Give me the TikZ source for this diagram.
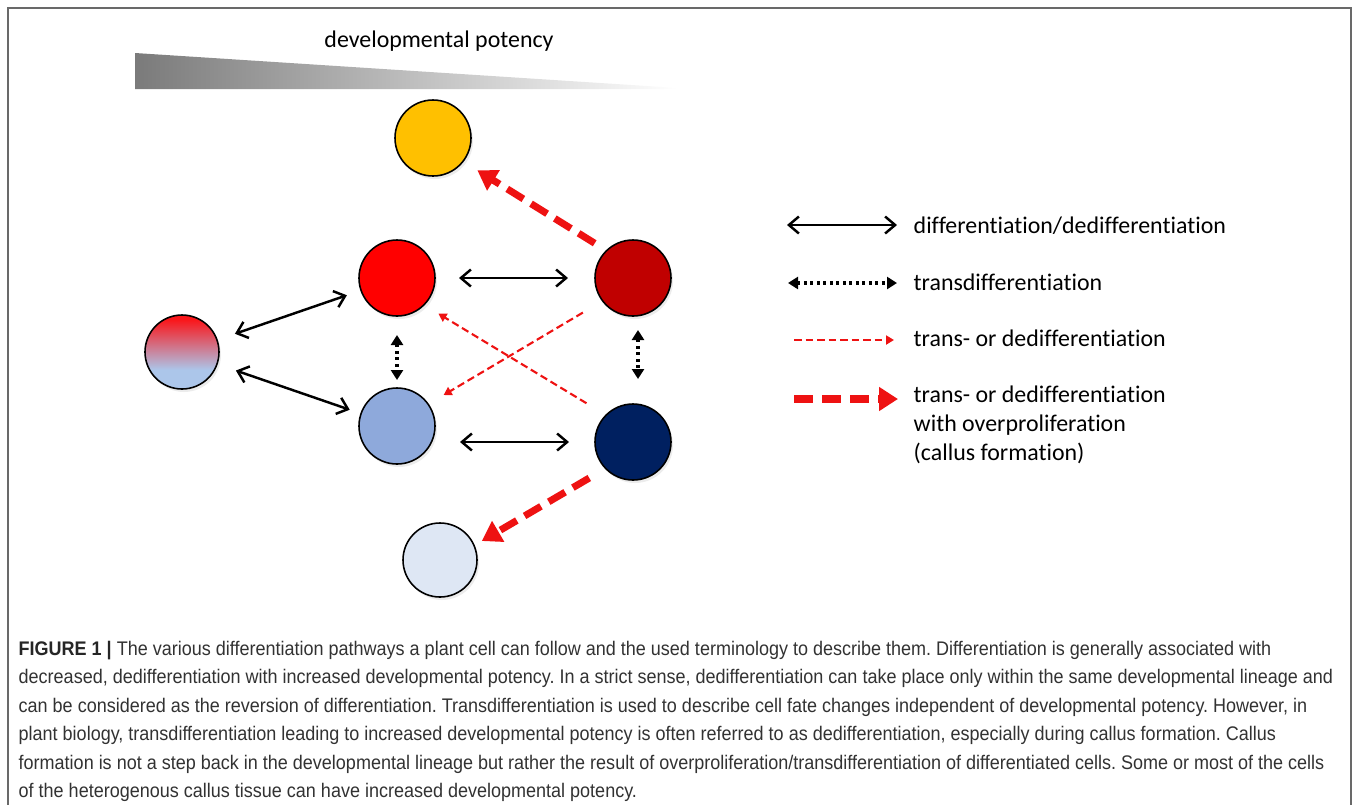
\documentclass[tikz,border=0pt]{standalone}
\usepackage{fontspec}
\setmainfont{Carlito}[Ligatures=NoCommon]
\newfontfamily\capfont[FakeStretch=0.915]{Liberation Sans}
\usetikzlibrary{positioning}
\usetikzlibrary{arrows.meta}
\usetikzlibrary{shadows}
\frenchspacing

\definecolor{cellyellow}{RGB}{255,192,0}
\definecolor{cellred}{RGB}{255,0,0}
\definecolor{celldred}{RGB}{192,0,0}
\definecolor{cellblue}{RGB}{142,169,219}
\definecolor{cellnavy}{RGB}{0,32,96}
\definecolor{cellpale}{RGB}{222,231,244}
\definecolor{stemred}{RGB}{250,22,26}
\definecolor{stemblue}{RGB}{172,198,234}
\definecolor{arrowred}{RGB}{238,18,18}
\definecolor{framegray}{RGB}{105,105,105}
\definecolor{captext}{RGB}{50,50,50}

\pgfdeclareverticalshading{stemshade}{100bp}{color(0bp)=(stemblue); color(38bp)=(stemblue); color(72bp)=(stemred); color(100bp)=(stemred)}

\begin{document}
\begin{tikzpicture}[
                x=0.1mm, y=-0.1mm,
                cell/.style = {
                    draw,
                    circle,
                    line width = 0.45pt,
                    minimum size = #1,
                    inner sep = 0pt,
                    outer sep = 0pt,
                    drop shadow = {opacity=0.15, shadow xshift=0.2mm, shadow yshift=-0.3mm}
                },
                cell/.default = 7.6mm,
                diffarrow/.style = {line width=0.7pt,
                    {Straight Barb[length=1mm,width=1.7mm]}-{Straight Barb[length=1mm,width=1.7mm]}},
                transarrow/.style = {line width=1pt, dash pattern=on 0.3mm off 0.35mm,
                    {Triangle[length=1mm,width=1.2mm]}-{Triangle[length=1mm,width=1.2mm]}},
                dedifarrow/.style = {arrowred, line width=0.6pt, dash pattern=on 0.75mm off 0.4mm,
                    -{Triangle[length=0.8mm,width=0.9mm]}},
                callusarrow/.style = {arrowred, line width=2pt, dash pattern=on 1.9mm off 0.9mm,
                    -{Triangle[length=1.9mm,width=2.3mm]}},
                legendtext/.style = {font=\fontsize{6.8}{8.25}\selectfont, inner sep=0pt, align=left},
                captionline/.style = {anchor=base west, inner sep=0pt, text=captext,
                    font=\capfont\fontsize{5.6}{8.1}\selectfont}
            ]
            \useasboundingbox (0,0) rectangle (1358,804);
            \draw[framegray, line width=0.5pt] (8,820) -- (8,8) -- (1351,8) -- (1351,820);
            % 
            \shade[left color=black!52, right color=white] (135,53) -- (678,88) -- (678,89) -- (135,89) -- cycle;
            \node[legendtext, anchor=base] (potency) at (439,47) {developmental potency};
            % 
            \node[cell, fill=cellyellow] (yellow) at (433,138) {};
            \node[cell, fill=cellred] (red) at (397,278) {};
            \node[cell, fill=celldred] (dred) at (633,278) {};
            \node[cell=7.4mm, shade, shading=stemshade] (stem) at (182,352) {};
            \node[cell, fill=cellblue] (blue) at (397,426) {};
            \node[cell, fill=cellnavy] (navy) at (633,442) {};
            \node[cell=7.4mm, fill=cellpale] (pale) at (440,560) {};
            % 
            \draw[diffarrow, shorten <=1.9mm, shorten >=1.5mm] (stem) -- (red);
            \draw[diffarrow, shorten <=2mm, shorten >=1.2mm] (stem) -- (blue);
            \draw[diffarrow, shorten <=2.4mm, shorten >=2.7mm] (red) -- (dred);
            \draw[diffarrow, shorten <=2.5mm, shorten >=2.6mm] (blue.east |- navy.west) -- (navy.west);
            % 
            \draw[transarrow, shorten <=1.9mm, shorten >=0.8mm] (red) -- (blue);
            \draw[transarrow, shorten <=1.4mm, shorten >=2.5mm] ([xshift=0.5mm]dred.south) -- ([xshift=0.5mm]navy.north);
            % 
            \draw[dedifarrow, shorten <=2.3mm, shorten >=1.7mm] (navy.135) -- (red.-45);
            \draw[dedifarrow, shorten <=2.3mm, shorten >=1.8mm] (dred.217) -- (blue.35);
            % 
            \draw[callusarrow, shorten <=1.4mm, shorten >=1.7mm] (dred.134) -- (yellow.-38);
            \draw[callusarrow, shorten <=1.9mm, shorten >=0.9mm] (navy.224) -- (pale.23);
            % 
            % legend
            \coordinate (diffA) at (787,225);
            \coordinate (diffB) at (897,225);
            \coordinate (transA) at (788,283);
            \coordinate (transB) at (897,283);
            \coordinate (dedifA) at (794,340);
            \coordinate (dedifB) at (894,340);
            \coordinate (callusA) at (794,399);
            \coordinate (callusB) at (898,399);
            \draw[diffarrow] (diffA) -- (diffB);
            \draw[transarrow] (transA) -- (transB);
            \draw[dedifarrow] (dedifA) -- (dedifB);
            \draw[callusarrow] (callusA) -- (callusB);
            \node[legendtext, anchor=base west] (diffL) at (913,233) {differentiation/dedifferentiation};
            \node[legendtext, anchor=base west] (transL) at (913,290) {transdifferentiation};
            \node[legendtext, anchor=base west] (dedifL) at (913,346) {trans- or dedifferentiation};
            \node[legendtext, anchor=west] (callusL) at (913,425) {trans- or dedifferentiation\\with overproliferation\\(callus formation)};
            % 
            % caption
            \node[captionline] (cap1) at (18,655) {{\bfseries\color{black!85}FIGURE 1 |} The various differentiation pathways a plant cell can follow and the used terminology to describe them. Differentiation is generally associated with};
            \node[captionline] (cap2) at (18,683.5) {decreased, dedifferentiation with increased developmental potency. In a strict sense, dedifferentiation can take place only within the same developmental lineage and};
            \node[captionline] (cap3) at (18,712) {can be considered as the reversion of differentiation. Transdifferentiation is used to describe cell fate changes independent of developmental potency. However, in};
            \node[captionline] (cap4) at (18,740.5) {plant biology, transdifferentiation leading to increased developmental potency is often referred to as dedifferentiation, especially during callus formation. Callus};
            \node[captionline] (cap5) at (18,769) {formation is not a step back in the developmental lineage but rather the result of overproliferation/transdifferentiation of differentiated cells. Some or most of the cells};
            \node[captionline] (cap6) at (18,797.5) {of the heterogenous callus tissue can have increased developmental potency.};
        \end{tikzpicture}
\end{document}
